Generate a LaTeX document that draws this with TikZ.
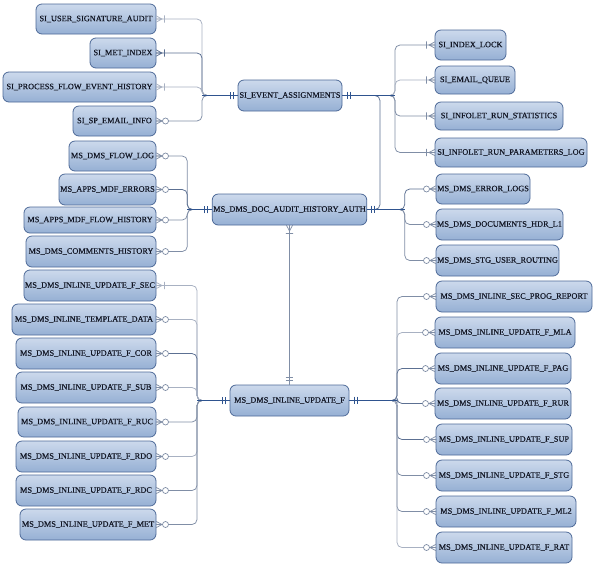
\documentclass[tikz,border=0pt]{standalone}
\usepackage{fontspec}
\setmainfont{Liberation Serif}
\newfontfamily\erfont{Liberation Serif}[FakeBold=0.35]
\definecolor{entTop}{RGB}{204,217,236}
\definecolor{entBot}{RGB}{150,176,212}
\definecolor{entline}{RGB}{78,106,152}
\definecolor{txt}{RGB}{18,22,36}
\definecolor{hubc}{RGB}{47,84,143}
\definecolor{brdark}{RGB}{92,112,146}
\definecolor{brmid}{RGB}{128,142,166}
\definecolor{brlight}{RGB}{168,177,194}
\tikzset{
  ent/.style={draw=entline, line width=0.8pt, rounded corners=6pt,
    top color=entTop, bottom color=entBot, text=txt,
    font=\erfont\fontsize{8.3}{9}\selectfont, inner xsep=1pt, inner ysep=0pt, outer sep=0pt},
  hub/.style={draw=hubc, line width=1.4pt},
  br/.style={line width=0.75pt, rounded corners=5pt},
  dk/.style={draw=brdark}, md/.style={draw=brmid}, lt/.style={draw=brlight},
  pics/crowbar/.style={code={
    \draw (0,-3.2) -- (6,0) -- (0,3.2) (0,0) -- (6,0) (8.5,-3.6) -- (8.5,3.6);}},
  pics/crowcirc/.style={code={
    \draw (0,-3.2) -- (6,0) -- (0,3.2) (0,0) -- (6.5,0);
    \draw[fill=white] (9.5,0) circle[radius=3];}},
  pics/dbar/.style={code={
    \draw (5,-3.8) -- (5,3.8) (8,-3.8) -- (8,3.8);}},
}
% entity box given by left, top, right, bottom edges
\newcommand{\erbox}[6]{\node[ent, minimum width={(#4-#2)*1pt}, minimum height={(#5-#3)*1pt}]
  (#1) at ({(#2+#4)/2},{(#3+#5)/2}) {#6};}
\begin{document}
\begin{tikzpicture}[x=1pt,y=-1pt]
\fill[white] (0,0) rectangle (596,566);
\useasboundingbox (0,0) rectangle (596,566);

% ---------- entities ----------
\erbox{sua}{36}{4}{156}{34}{SI\_USER\_SIGNATURE\_AUDIT}
\erbox{smi}{90}{38}{156}{68}{SI\_MET\_INDEX}
\erbox{spf}{3}{72}{156}{102}{SI\_PROCESS\_FLOW\_EVENT\_HISTORY}
\erbox{spe}{73}{106}{156}{136}{SI\_SP\_EMAIL\_INFO}
\erbox{sea}{238}{80}{342}{111}{SI\_EVENT\_ASSIGNMENTS}
\erbox{sil}{435}{30}{506}{60}{SI\_INDEX\_LOCK}
\erbox{seq}{435}{66}{515}{94}{SI\_EMAIL\_QUEUE}
\erbox{irs}{435}{102}{563}{130}{SI\_INFOLET\_RUN\_STATISTICS}
\erbox{irp}{435}{138}{587}{167}{SI\_INFOLET\_RUN\_PARAMETERS\_LOG}

\erbox{mfl}{69}{141}{156}{171}{MS\_DMS\_FLOW\_LOG}
\erbox{mme}{59}{174}{156}{205}{MS\_APPS\_MDF\_ERRORS}
\erbox{mmf}{24}{207}{156}{233}{MS\_APPS\_MDF\_FLOW\_HISTORY}
\erbox{mch}{26}{236}{156}{267}{MS\_DMS\_COMMENTS\_HISTORY}
\erbox{dah}{213}{194}{366}{225}{MS\_DMS\_DOC\_AUDIT\_HISTORY\_AUTH}
\erbox{mel}{436}{174}{530}{204}{MS\_DMS\_ERROR\_LOGS}
\erbox{mdh}{436}{209}{563}{240}{MS\_DMS\_DOCUMENTS\_HDR\_L1}
\erbox{mur}{436}{245}{559}{276}{MS\_DMS\_STG\_USER\_ROUTING}

\erbox{fsec}{24}{270}{156}{301}{MS\_DMS\_INLINE\_UPDATE\_F\_SEC}
\erbox{ftd}{12}{304}{156}{335}{MS\_DMS\_INLINE\_TEMPLATE\_DATA}
\erbox{fcor}{16}{338}{156}{369}{MS\_DMS\_INLINE\_UPDATE\_F\_COR}
\erbox{fsub}{16}{372}{156}{403}{MS\_DMS\_INLINE\_UPDATE\_F\_SUB}
\erbox{fruc}{18}{407}{156}{437}{MS\_DMS\_INLINE\_UPDATE\_F\_RUC}
\erbox{frdo}{16}{441}{156}{472}{MS\_DMS\_INLINE\_UPDATE\_F\_RDO}
\erbox{frdc}{16}{475}{156}{506}{MS\_DMS\_INLINE\_UPDATE\_F\_RDC}
\erbox{fmet}{20}{509}{156}{540}{MS\_DMS\_INLINE\_UPDATE\_F\_MET}
\erbox{inl}{230}{385}{349}{416}{MS\_DMS\_INLINE\_UPDATE\_F}
\erbox{fspr}{436}{281}{592}{312}{MS\_DMS\_INLINE\_SEC\_PROG\_REPORT}
\erbox{fmla}{435}{317}{575}{348}{MS\_DMS\_INLINE\_UPDATE\_F\_MLA}
\erbox{fpag}{435}{353}{571}{384}{MS\_DMS\_INLINE\_UPDATE\_F\_PAG}
\erbox{frur}{435}{388}{571}{419}{MS\_DMS\_INLINE\_UPDATE\_F\_RUR}
\erbox{fsup}{436}{424}{572}{455}{MS\_DMS\_INLINE\_UPDATE\_F\_SUP}
\erbox{fstg}{436}{460}{572}{491}{MS\_DMS\_INLINE\_UPDATE\_F\_STG}
\erbox{fml2}{436}{496}{576}{527}{MS\_DMS\_INLINE\_UPDATE\_F\_ML2}
\erbox{frat}{436}{532}{572}{563}{MS\_DMS\_INLINE\_UPDATE\_F\_RAT}

% ---------- bus joints ----------
\path (sea.west) ++(-36,0) coordinate (jA);
\path (sea.east) ++(53,0) coordinate (jB);
\path (sea.east) ++(38,0) coordinate (jC);
\path (dah.west) ++(-25,0) coordinate (jE);
\path (dah.east) ++(38,0) coordinate (jD);
\path (inl.west) ++(-33,0) coordinate (jF);
\path (inl.east) ++(48,0) coordinate (jG);

% ---------- branches: SI_EVENT_ASSIGNMENTS ----------
\draw[br,lt] (sua.east) -| (jA) -- (sea.west);
\draw[br,dk] (smi.east) -| (jA) -- (sea.west);
\draw[br,lt] (spf.east) -| (jA) -- (sea.west);
\draw[br,md] (spe.east) -| (jA) -- (sea.west);
\draw[br,md] (sil.west) -| (jB) -- (sea.east);
\draw[br,lt] (seq.west) -| (jB) -- (sea.east);
\draw[br,md] (irs.west) -| (jB) -- (sea.east);
\draw[br,md] (irp.west) -| (jB) -- (sea.east);
\draw[br,dk] (dah.east) -| (jC) -- (sea.east);

% ---------- branches: MS_DMS_DOC_AUDIT_HISTORY_AUTH ----------
\draw[br,md] (mfl.east) -| (jE) -- (dah.west);
\draw[br,dk] (mme.east) -| (jE) -- (dah.west);
\draw[br,md] (mmf.east) -| (jE) -- (dah.west);
\draw[br,md] (mch.east) -| (jE) -- (dah.west);
\draw[br,dk] (mel.west) -| (jD) -- (dah.east);
\draw[br,md] (mdh.west) -| (jD) -- (dah.east);
\draw[br,md] (mur.west) -| (jD) -- (dah.east);
\draw[br,md] (dah.south) -- (inl.north);

% ---------- branches: MS_DMS_INLINE_UPDATE_F ----------
\draw[br,lt] (fsec.east) -| (jF) -- (inl.west);
\draw[br,lt] (ftd.east) -| (jF) -- (inl.west);
\draw[br,dk] (fcor.east) -| (jF) -- (inl.west);
\draw[br,lt] (fsub.east) -| (jF) -- (inl.west);
\draw[br,md] (fruc.east) -| (jF) -- (inl.west);
\draw[br,lt] (frdo.east) -| (jF) -- (inl.west);
\draw[br,md] (frdc.east) -| (jF) -- (inl.west);
\draw[br,md] (fmet.east) -| (jF) -- (inl.west);
\draw[br,md] (fspr.west) -| (jG) -- (inl.east);
\draw[br,lt] (fmla.west) -| (jG) -- (inl.east);
\draw[br,dk] (fpag.west) -| (jG) -- (inl.east);
\draw[br,dk] (frur.west) -| (jG) -- (inl.east);
\draw[br,dk] (fsup.west) -| (jG) -- (inl.east);
\draw[br,md] (fstg.west) -| (jG) -- (inl.east);
\draw[br,md] (fml2.west) -| (jG) -- (inl.east);
\draw[br,lt] (frat.west) -| (jG) -- (inl.east);

% ---------- main (thick) links ----------
\draw[hub] (jA) -- (sea.west);
\draw[hub] (sea.east) -- (jB);
\draw[hub] (jE) -- (dah.west);
\draw[hub] (dah.east) -- (jD);
\draw[hub] (jF) -- (inl.west);
\draw[hub] (inl.east) -- (jG);

% ---------- cardinality marks ----------
\begin{scope}[line width=0.7pt]
\pic[brlight] at (sua.east) {crowbar};
\pic[brdark] at (smi.east) {crowbar};
\pic[brlight] at (spf.east) {crowbar};
\pic[brmid] at (spe.east) {crowcirc};
\foreach \n in {sil,seq,irs,irp} \pic[brmid,rotate=180] at (\n.west) {crowbar};
\foreach \n in {mfl,mme,mmf,mch} \pic[brmid] at (\n.east) {crowcirc};
\foreach \n in {mel,mdh,mur} \pic[brmid,rotate=180] at (\n.west) {crowcirc};
\pic[brlight] at (fsec.east) {crowbar};
\foreach \n in {ftd,fcor,fsub,fruc,frdo,frdc,fmet} \pic[brmid] at (\n.east) {crowcirc};
\foreach \n in {fspr,fmla,fpag,frur,fsup,fstg,fml2,frat} \pic[brmid,rotate=180] at (\n.west) {crowcirc};
\pic[brmid,rotate=-90] at (dah.south) {crowbar};
\pic[brmid,rotate=90] at (inl.north) {dbar};
\end{scope}
\begin{scope}[line width=1pt]
\pic[hubc,rotate=180] at (sea.west) {dbar};
\pic[hubc] at (sea.east) {dbar};
\pic[hubc,rotate=180] at (dah.west) {dbar};
\pic[hubc] at (dah.east) {dbar};
\pic[hubc,rotate=180] at (inl.west) {dbar};
\pic[hubc] at (inl.east) {dbar};
\end{scope}
\end{tikzpicture}
\end{document}
